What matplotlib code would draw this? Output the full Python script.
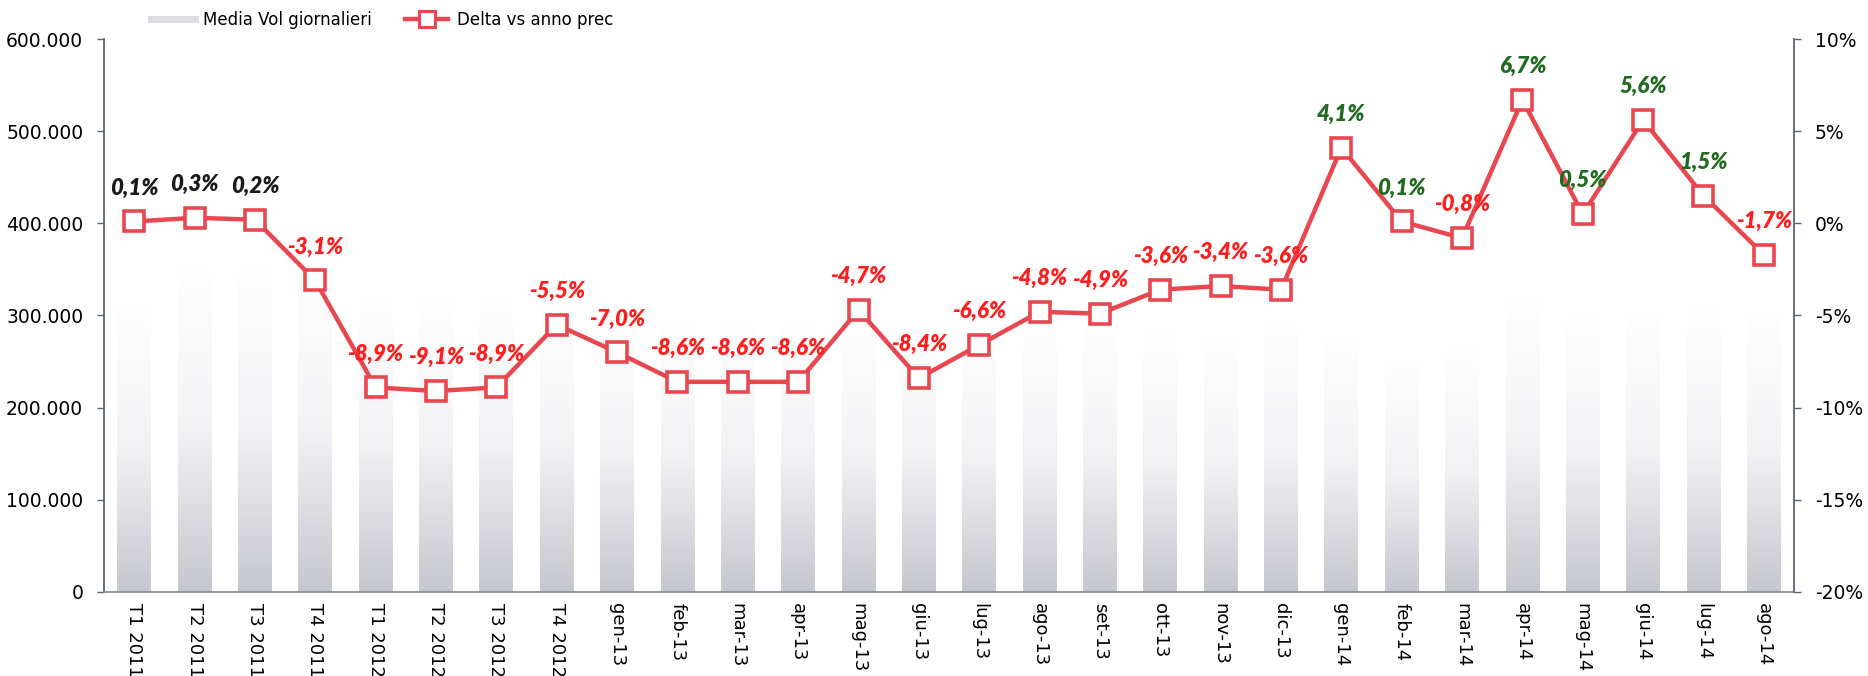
import matplotlib
matplotlib.use("Agg")
import matplotlib.pyplot as plt
import numpy as np
from matplotlib.colors import LinearSegmentedColormap
from matplotlib.lines import Line2D
from matplotlib.ticker import FuncFormatter, MultipleLocator

plt.rcParams['font.family'] = ['DejaVu Sans']
plt.rcParams['axes.unicode_minus'] = False

# categories (quarters 2011-2012, then months)
periods = ['T1 2011', 'T2 2011', 'T3 2011', 'T4 2011',
           'T1 2012', 'T2 2012', 'T3 2012', 'T4 2012',
           'gen-13', 'feb-13', 'mar-13', 'apr-13', 'mag-13', 'giu-13',
           'lug-13', 'ago-13', 'set-13', 'ott-13', 'nov-13', 'dic-13',
           'gen-14', 'feb-14', 'mar-14', 'apr-14', 'mag-14', 'giu-14',
           'lug-14', 'ago-14']

# average daily volume (bars, very faint in the original)
media_vol = [312000, 352000, 354000, 350000,
             321000, 319000, 321000, 312000,
             300000, 296000, 294000, 294000, 294000, 292000,
             291000, 293000, 293000, 282000, 274000, 297000,
             278000, 254000, 264000, 319000, 300000, 307000,
             310000, 307000]

# delta vs previous year, percent
delta_pct = [0.1, 0.3, 0.2, -3.1,
             -8.9, -9.1, -8.9, -5.5,
             -7.0, -8.6, -8.6, -8.6, -4.7, -8.4,
             -6.6, -4.8, -4.9, -3.6, -3.4, -3.6,
             4.1, 0.1, -0.8, 6.7, 0.5, 5.6,
             1.5, -1.7]

green_from = 'gen-14'  # positive labels turn green from here on

line_col = '#e8474f'
red_lbl = '#ff1e1e'
green_lbl = '#216b21'
spine_col = '#5b6672'

fig = plt.figure(figsize=(18.68, 6.76), dpi=100)
ax = fig.add_axes([0.0557, 0.1243, 0.9047, 0.818])

x = np.arange(len(periods))
bars = ax.bar(x, media_vol, width=0.56, color='none', edgecolor='none', zorder=1)

# vertical gradient inside each bar: light gray at bottom -> white at top
cmap = LinearSegmentedColormap.from_list('g', ['#ffffff', '#f2f2f5', '#c6c6ce'])
grad = np.linspace(1, 0, 256).reshape(-1, 1)
for b in bars:
    x0 = b.get_x()
    w = b.get_width()
    h = b.get_height()
    im = ax.imshow(grad, extent=[x0, x0 + w, 0, h], origin='lower',
                   aspect='auto', cmap=cmap, vmin=0, vmax=1, zorder=1)
    im.set_clip_path(b)

ax.set_xlim(-0.5, len(periods) - 0.5)
ax.set_ylim(0, 600000)
ax.yaxis.set_major_locator(MultipleLocator(100000))
ax.yaxis.set_major_formatter(FuncFormatter(lambda v, p: f"{int(v):,}".replace(',', '.')))
ax.set_xticks(x)
ax.set_xticklabels(periods, rotation=270, fontsize=13)
ax.tick_params(axis='x', length=0, pad=8)
ax.tick_params(axis='y', length=5, width=1, colors=spine_col, labelcolor='black',
               labelsize=13.5, pad=10)
for s in ['top', 'right']:
    ax.spines[s].set_visible(False)
ax.spines['left'].set_color(spine_col)
ax.spines['bottom'].set_color('#8a8f96')
ax.spines['left'].set_linewidth(1.3)
ax.spines['bottom'].set_linewidth(1.3)

ax2 = ax.twinx()
vals = np.array(delta_pct) / 100
ax2.plot(x, vals, color=line_col, lw=3.2, marker='s', markersize=15,
         markerfacecolor='white', markeredgecolor=line_col, markeredgewidth=2.6,
         zorder=3)
ax2.set_ylim(-0.20, 0.10)
ax2.yaxis.set_major_locator(MultipleLocator(0.05))
ax2.yaxis.set_major_formatter(FuncFormatter(lambda v, p: f"{v*100:.0f}%"))
ax2.tick_params(axis='y', length=5, width=1, colors=spine_col, labelcolor='black',
                labelsize=13.5, pad=10)
for s in ['top', 'left', 'bottom']:
    ax2.spines[s].set_visible(False)
ax2.spines['right'].set_color(spine_col)
ax2.spines['right'].set_linewidth(1.3)

gi = periods.index(green_from)
for i, v in enumerate(delta_pct):
    if v < 0:
        c = red_lbl
    elif i >= gi:
        c = green_lbl
    else:
        c = '#1a1a1a'
    txt = f"{v:.1f}".replace('.', ',') + '%'
    ax2.annotate(txt, (i, v / 100), xytext=(0, 24), textcoords='offset points',
                 ha='center', va='center', fontsize=16, fontweight='heavy',
                 fontstyle='italic', color=c, family=['Lato', 'DejaVu Sans'],
                 zorder=4)

handles = [Line2D([], [], color='#dcdce3', lw=5),
           Line2D([], [], color=line_col, lw=3.2, marker='s', markersize=11,
                  markerfacecolor='white', markeredgecolor=line_col, markeredgewidth=2.2)]
fig.legend(handles, ['Media Vol giornalieri', 'Delta vs anno prec'],
           loc='center left', bbox_to_anchor=(0.073, 0.970), ncol=2, frameon=False,
           fontsize=12, handlelength=2.6, columnspacing=2.0, handletextpad=0.5)

fig.savefig('out.png', dpi=100)
